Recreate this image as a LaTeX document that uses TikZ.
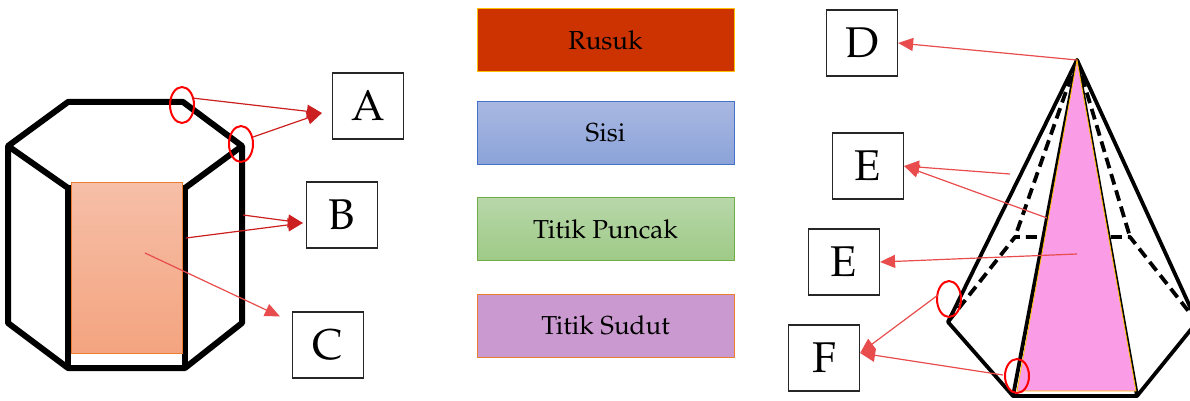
\documentclass[tikz,border=0pt]{standalone}
\usepackage[T1]{fontenc}
\usepackage{mathpazo}
\usepackage{xcolor}
\usepackage{tikz}
\usetikzlibrary{arrows.meta,shapes}

\definecolor{rusuk}{HTML}{CC3300}
\definecolor{rusukline}{HTML}{FFC000}
\definecolor{sisitop}{HTML}{A9B8E2}
\definecolor{sisibot}{HTML}{8BA3D9}
\definecolor{sisiline}{HTML}{4472C4}
\definecolor{puncaktop}{HTML}{B8D7AA}
\definecolor{puncakbot}{HTML}{9ECA86}
\definecolor{puncakline}{HTML}{70AD47}
\definecolor{sudut}{HTML}{C999D0}
\definecolor{sudutline}{HTML}{ED7D31}
\definecolor{facetop}{HTML}{F6BFA8}
\definecolor{facebot}{HTML}{F4A47F}
\definecolor{pink}{HTML}{FA9CE6}
\definecolor{darkarrow}{HTML}{CC1F1F}
\definecolor{lightarrow}{HTML}{E84C4C}

\begin{document}
\begin{tikzpicture}[x=1pt, y=-1pt, >={Triangle[length=15pt,width=13pt]}, inner sep=0pt]
\useasboundingbox (0,0) rectangle (1190,401);

\tikzstyle{letter}=[draw=black!85, line width=1.2pt, fill=white, minimum width=71pt, minimum height=66pt, font=\fontsize{43}{43}\selectfont]
\tikzstyle{legend}=[minimum width=257pt, minimum height=63pt, line width=1pt, font=\fontsize{26}{26}\selectfont]
\tikzstyle{prism}=[line width=6pt, line join=round]
\tikzstyle{pyra}=[line width=3.8pt, line join=round]
\tikzstyle{hidden}=[pyra, dash pattern=on 11pt off 6pt]
\tikzstyle{ring}=[red, line width=2pt]
\tikzstyle{dark}=[->, darkarrow, line width=1.2pt]
\tikzstyle{light}=[->, lightarrow, line width=1.2pt]

% prisma segi enam
\draw [prism] (8,146) -- (68,102) -- (183,102) -- (242,146) -- (185,188) -- (68,188) -- cycle;
\draw [prism] (8,146) -- (8,323) -- (68,368) -- (185,368) -- (242,323) -- (242,146);
\draw [prism] (68,188) -- (68,368);
\draw [prism] (185,188) -- (185,368);
\draw [draw=sudutline, line width=0.8pt, top color=facetop, bottom color=facebot] (71,182) rectangle (182.5,353);

% limas segi enam
\coordinate (top) at (1077,60);
\coordinate (p1) at (948,322);
\coordinate (p2) at (1015,237);
\coordinate (p3) at (1130,237);
\coordinate (p4) at (1197,322);
\coordinate (p5) at (1137,396);
\coordinate (p6) at (1013,396);
\draw [hidden] (top) -- (p2);
\draw [hidden] (top) -- (p3);
\draw [hidden] (p1) -- (p2) -- (p3) -- (p4);
\draw [pyra] (top) -- (p1) -- (p6) -- (p5) -- (p4) -- cycle;
\draw [pyra] (p6) -- (top) -- (p5);
\draw [draw=rusukline, line width=0.8pt, fill=pink] (top) -- (1017,391) -- (1136,391) -- cycle;

% kotak keterangan
\node [legend, draw=rusukline, fill=rusuk] (rusuk) at (605.5,40.5) {Rusuk};
\node [legend, draw=sisiline, top color=sisitop, bottom color=sisibot] (sisi) at (605.5,133) {Sisi};
\node [legend, draw=puncakline, top color=puncaktop, bottom color=puncakbot] (puncak) at (605.5,229) {Titik Puncak};
\node [legend, draw=sudutline, fill=sudut] (sudut) at (605.5,325.5) {Titik Sudut};

% huruf
\node [letter] (bA) at (368,106) {A};
\node [letter] (bB) at (342,215) {B};
\node [letter] (bC) at (328,345) {C};
\node [letter] (bD) at (862,43) {D};
\node [letter] (bE1) at (868,166) {E};
\node [letter] (bE2) at (844,262) {E};
\node [letter] (bF) at (824,358) {F};

% lingkaran merah
\draw [ring] (182,105) ellipse [x radius=12, y radius=18];
\draw [ring] (241,144) ellipse [x radius=12, y radius=18];
\draw [ring] (949,299) ellipse [x radius=12, y radius=18];
\draw [ring] (1017,376) ellipse [x radius=12, y radius=17];

% titik awal panah
\coordinate (a1) at (192,98);
\coordinate (a2) at (253,137);
\coordinate (b1) at (243,215);
\coordinate (b2) at (186,238);
\coordinate (c1) at (145,253);
\coordinate (e1) at (1010,174);
\coordinate (e2) at (1047,218);
\coordinate (e3) at (1077,254);
\coordinate (f1) at (938,295);
\coordinate (f2) at (1003,375);

\draw [dark] (a1) -- ([xshift=-10pt,yshift=-7pt]bA.west);
\draw [dark] (a2) -- ([xshift=-10pt,yshift=-7pt]bA.west);
\draw [dark] (b1) -- ([xshift=-3pt,yshift=-8pt]bB.west);
\draw [dark] (b2) -- ([xshift=-3pt,yshift=-8pt]bB.west);
\draw [light] (c1) -- ([xshift=-12pt,yshift=-5pt]bC.north west);
\draw [light] (top) -- (bD.east);
\draw [light] (e1) -- (bE1.east);
\draw [light] (e2) -- (bE1.east);
\draw [light] (e3) -- (bE2.east);
\draw [light] (f1) -- ([yshift=5pt]bF.east);
\draw [light] (f2) -- ([yshift=5pt]bF.east);
\end{tikzpicture}
\end{document}
